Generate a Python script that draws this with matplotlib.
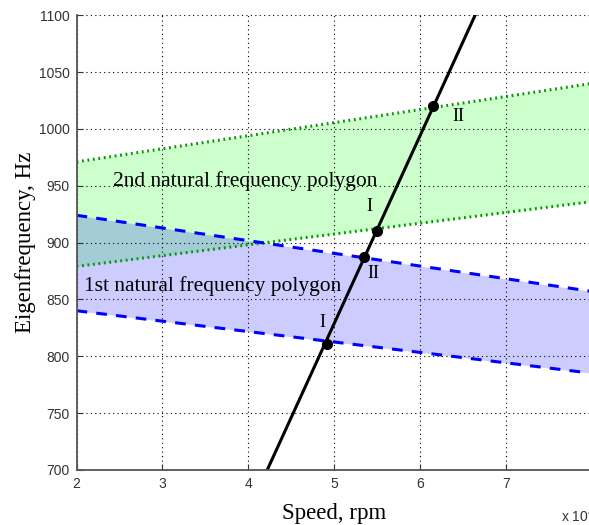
import numpy as np
import matplotlib.pyplot as plt

# Speed in units of 10^4 rpm, frequency in Hz
speed_edges = [2, 8]

# 2nd natural frequency polygon (green, dotted borders)
poly2_upper = [971, 1040]
poly2_lower = [879, 936]

# 1st natural frequency polygon (blue, dashed borders)
poly1_upper = [924, 857]
poly1_lower = [840, 785]

# Excitation line
line_speed = [4.22, 6.64]
line_freq = [700, 1100]

# Intersection points and labels
pt_speed = [4.91, 5.35, 5.50, 6.15]
pt_freq = [811, 887, 910, 1020]
lab_speed = [4.86, 5.46, 5.41, 6.44]
lab_freq = [830, 873, 932, 1011]
lab_text = ['I', 'II', 'I', 'II']


def main():
    fig = plt.figure(figsize=(5.89, 5.25), dpi=100)
    ax = fig.add_axes([0.130, 0.105, 0.875, 0.866])

    # Полигоны
    ax.fill_between(speed_edges, poly2_lower, poly2_upper, color=(0, 1, 0), alpha=0.2, lw=0)
    ax.fill_between(speed_edges, poly1_lower, poly1_upper, color=(0, 0, 1), alpha=0.2, lw=0)

    ax.plot(speed_edges, poly2_upper, color=(0, 0.6, 0), ls=(0, (0.6, 1.2)), lw=2.2)
    ax.plot(speed_edges, poly2_lower, color=(0, 0.6, 0), ls=(0, (0.6, 1.2)), lw=2.2)
    ax.plot(speed_edges, poly1_upper, color='#0000ff', ls=(0, (3.5, 3)), lw=2.2)
    ax.plot(speed_edges, poly1_lower, color='#0000ff', ls=(0, (3.5, 3)), lw=2.2)

    ax.plot(line_speed, line_freq, color='k', lw=2.2)
    ax.plot(pt_speed, pt_freq, 'o', color='k', ms=7)
    for x, y, t in zip(lab_speed, lab_freq, lab_text):
        ax.text(x, y, t, ha='center', va='center', fontsize=13, family='Liberation Serif')

    ax.text(2.09, 862, '1st natural frequency polygon', ha='left', va='center',
            fontsize=15.5, family='Liberation Serif')
    ax.text(2.42, 954, '2nd natural frequency polygon', ha='left', va='center',
            fontsize=15.5, family='Liberation Serif')

    ax.set_xlim(2, 8)
    ax.set_ylim(700, 1100)
    ax.set_xticks([2, 3, 4, 5, 6, 7, 8])
    ax.set_yticks(np.arange(700, 1101, 50))
    ax.grid(True, color='k', ls=(0, (1, 3)), lw=0.8)
    ax.tick_params(direction='in', length=4, labelsize=10, colors='#333333', pad=5)
    for lbl in ax.get_xticklabels() + ax.get_yticklabels():
        lbl.set_family('Liberation Sans')

    ax.spines['top'].set_visible(False)
    ax.spines['right'].set_visible(False)
    ax.spines['left'].set_color('#555555')
    ax.spines['bottom'].set_color('#555555')
    ax.spines['left'].set_linewidth(1.3)
    ax.spines['bottom'].set_linewidth(1.3)

    ax.set_xlabel('Speed, rpm', fontsize=16.5, family='Liberation Serif', labelpad=9)
    ax.set_ylabel('Eigenfrequency, Hz', fontsize=16.5, family='Liberation Serif', labelpad=2)

    fig.text(0.952, 0.006, 'x 10$^{4}$', fontsize=10, family='Liberation Sans', color='#333333')

    fig.savefig('out.png', dpi=100)


if __name__ == "__main__":
    main()
